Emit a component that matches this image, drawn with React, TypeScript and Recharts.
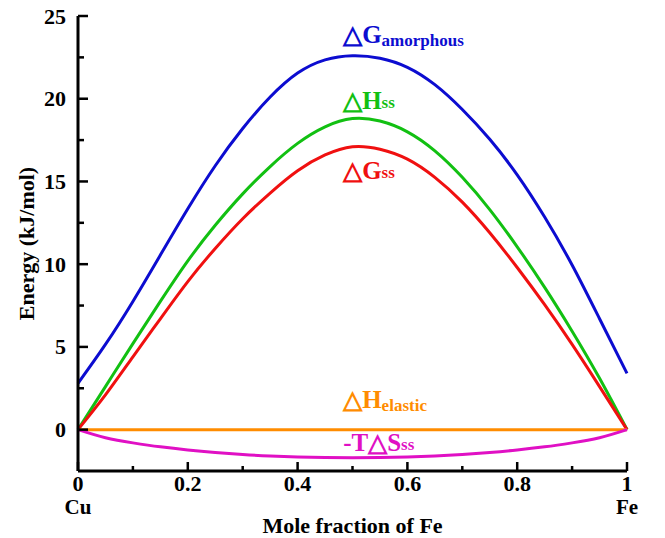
import { LineChart, Line, XAxis, YAxis, ReferenceDot } from 'recharts';

const fraction = [0, 0.05, 0.1, 0.15, 0.2, 0.25, 0.3, 0.35, 0.4, 0.45, 0.5, 0.55, 0.6, 0.65, 0.7, 0.75, 0.8, 0.85, 0.9, 0.95, 1];
const gAmorphous = [2.8, 5.15, 7.75, 10.55, 13.35, 15.95, 18.2, 20.1, 21.55, 22.35, 22.6, 22.45, 21.9, 20.85, 19.35, 17.55, 15.4, 12.85, 9.95, 6.7, 3.4];
const hSs = [0, 2.6, 5.2, 7.75, 10.2, 12.35, 14.25, 15.9, 17.3, 18.3, 18.8, 18.65, 18.0, 16.85, 15.25, 13.3, 11.05, 8.6, 5.95, 3.1, 0];
const gSs = [0, 2.1, 4.4, 6.7, 8.95, 10.95, 12.75, 14.3, 15.65, 16.6, 17.1, 16.95, 16.35, 15.25, 13.75, 11.9, 9.8, 7.55, 5.15, 2.6, 0];
const hElastic = [0, 0, 0, 0, 0, 0, 0, 0, 0, 0, 0, 0, 0, 0, 0, 0, 0, 0, 0, 0, 0];
const tSs = [0, -0.49, -0.8, -1.04, -1.23, -1.38, -1.5, -1.59, -1.65, -1.69, -1.7, -1.69, -1.65, -1.59, -1.5, -1.38, -1.23, -1.04, -0.8, -0.49, 0];

const xTicks = [0, 0.1, 0.2, 0.3, 0.4, 0.5, 0.6, 0.7, 0.8, 0.9, 1];
const yTicks = [0, 2.5, 5, 7.5, 10, 12.5, 15, 17.5, 20, 22.5, 25];

const data = fraction.map((x, i) => ({
  x,
  gAm: gAmorphous[i],
  hSs: hSs[i],
  gSs: gSs[i],
  hEl: hElastic[i],
  tSs: tSs[i],
}));

const FONT = '"Liberation Serif", "Times New Roman", serif';
const BLUE = '#0c0cd0';
const GREEN = '#12c012';
const RED = '#f01010';
const ORANGE = '#ff8c00';
const MAGENTA = '#e010c4';
const MARGIN = 8;
const FS = 22;

function XTick(props: any) {
  const { x, y, payload } = props;
  const v = payload.value;
  const major = Math.round(v * 10) % 2 === 0;
  const base = y - MARGIN;
  return (
    <g>
      <line x1={x} x2={x} y1={base} y2={base - (major ? 9 : 5)} stroke="#000" strokeWidth={2.5} />
      {major && (
        <text x={x} y={base + 20} textAnchor="middle" fontFamily={FONT} fontWeight="bold" fontSize={FS} fill="#000">
          {String(v)}
        </text>
      )}
      {(v === 0 || v === 1) && (
        <text x={x} y={base + 43} textAnchor="middle" fontFamily={FONT} fontWeight="bold" fontSize={21} fill="#000">
          {v === 0 ? 'Cu' : 'Fe'}
        </text>
      )}
    </g>
  );
}

function YTick(props: any) {
  const { x, y, payload } = props;
  const v = payload.value;
  const major = v % 5 === 0;
  const base = x + MARGIN;
  return (
    <g>
      <line x1={base} x2={base + (major ? 10 : 6)} y1={y} y2={y} stroke="#000" strokeWidth={2.5} />
      {major && (
        <text x={base - 12} y={y} textAnchor="end" dominantBaseline="central" fontFamily={FONT} fontWeight="bold" fontSize={FS} fill="#000">
          {v}
        </text>
      )}
    </g>
  );
}

function curveLabel(color: string, main: string, sub: string, lower: boolean) {
  return (p: any) => (
    <text x={p.cx} y={p.cy} fill={color} fontFamily={FONT} fontWeight="bold" fontSize={25} dominantBaseline="central">
      <tspan>{main}</tspan>
      <tspan fontSize={17} dy={lower ? 6 : 2}>{sub}</tspan>
    </text>
  );
}

const axisLine = { stroke: '#000', strokeWidth: 3 };

export default function App() {
  return (
    <div style={{ position: 'absolute', left: 0, top: 0, width: 665, height: 538, background: '#fff' }}>
      <LineChart width={665} height={538} data={data} margin={{ top: 16, right: 38, bottom: 0, left: 0 }}>
        <XAxis
          dataKey="x"
          type="number"
          domain={[0, 1]}
          ticks={xTicks}
          interval={0}
          tickSize={0}
          tickMargin={MARGIN}
          tick={<XTick />}
          axisLine={axisLine}
          height={67}
          label={{ value: 'Mole fraction of Fe', position: 'insideBottom', offset: 5, style: { fontFamily: FONT, fontWeight: 'bold', fontSize: FS, fill: '#000' } }}
        />
        <XAxis xAxisId="top" orientation="top" type="number" domain={[0, 1]} height={0} tick={false} tickLine={false} axisLine={axisLine} />
        <YAxis
          type="number"
          domain={[-2.5, 25]}
          ticks={yTicks}
          interval={0}
          tickSize={0}
          tickMargin={MARGIN}
          tick={<YTick />}
          axisLine={axisLine}
          width={78}
          label={{ value: 'Energy (kJ/mol)', angle: -90, position: 'insideLeft', offset: 26, style: { textAnchor: 'middle', fontFamily: FONT, fontWeight: 'bold', fontSize: FS, fill: '#000' } }}
        />
        <YAxis yAxisId="right" orientation="right" type="number" domain={[-2.5, 25]} width={0} tick={false} tickLine={false} axisLine={axisLine} />
        <Line type="natural" dataKey="gAm" stroke={BLUE} strokeWidth={3} dot={false} isAnimationActive={false} />
        <Line type="natural" dataKey="hSs" stroke={GREEN} strokeWidth={3} dot={false} isAnimationActive={false} />
        <Line type="natural" dataKey="gSs" stroke={RED} strokeWidth={3} dot={false} isAnimationActive={false} />
        <Line type="natural" dataKey="hEl" stroke={ORANGE} strokeWidth={3} dot={false} isAnimationActive={false} />
        <Line type="natural" dataKey="tSs" stroke={MAGENTA} strokeWidth={3} dot={false} isAnimationActive={false} />
        <ReferenceDot x={0.483} y={23.9} r={0} ifOverflow="visible" shape={curveLabel(BLUE, '△G', 'amorphous', true)} />
        <ReferenceDot x={0.483} y={19.9} r={0} ifOverflow="visible" shape={curveLabel(GREEN, '△H', 'ss', false)} />
        <ReferenceDot x={0.483} y={15.7} r={0} ifOverflow="visible" shape={curveLabel(RED, '△G', 'ss', false)} />
        <ReferenceDot x={0.483} y={1.85} r={0} ifOverflow="visible" shape={curveLabel(ORANGE, '△H', 'elastic', true)} />
        <ReferenceDot x={0.483} y={-0.75} r={0} ifOverflow="visible" shape={curveLabel(MAGENTA, '-T△S', 'ss', false)} />
      </LineChart>
    </div>
  );
}
